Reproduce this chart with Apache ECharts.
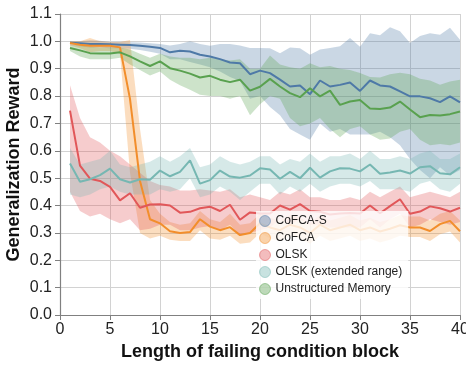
<!DOCTYPE html>
<html>
<head>
<meta charset="utf-8">
<script src="https://cdn.jsdelivr.net/npm/echarts@6/dist/echarts.min.js"></script>
<style>
  html, body { margin: 0; padding: 0; background: #fff; }
  #chart { width: 466px; height: 366px; }
</style>
</head>
<body>
<div id="chart"></div>
<script>
// length of failing condition block
const steps = [1, 2, 3, 4, 5, 6, 7, 8, 9, 10, 11, 12, 13, 14, 15, 16, 17, 18, 19, 20,
  21, 22, 23, 24, 25, 26, 27, 28, 29, 30, 31, 32, 33, 34, 35, 36, 37, 38, 39, 40];

// CoFCA-S
const cofcaSMean = [0.995, 0.993, 0.99, 0.99, 0.989, 0.988, 0.987, 0.984, 0.98, 0.976,
  0.96, 0.966, 0.963, 0.951, 0.945, 0.935, 0.923, 0.92, 0.88, 0.893,
  0.884, 0.86, 0.835, 0.839, 0.807, 0.857, 0.835, 0.841, 0.85, 0.819,
  0.857, 0.839, 0.835, 0.817, 0.799, 0.799, 0.792, 0.778, 0.799, 0.777];
const cofcaSHigh = [1.0, 1.0, 1.004, 1.002, 0.998, 0.998, 0.997, 0.996, 0.993, 0.99,
  0.985, 0.99, 1.0, 0.99, 0.984, 0.99, 0.99, 0.985, 0.976, 0.976,
  0.975, 0.957, 0.978, 0.975, 0.951, 0.97, 0.976, 0.982, 1.012, 0.98,
  1.03, 1.022, 1.052, 1.037, 0.994, 1.02, 1.03, 1.024, 1.05, 1.006];
const cofcaSLow = [0.985, 0.982, 0.978, 0.978, 0.975, 0.975, 0.973, 0.968, 0.962, 0.955,
  0.935, 0.935, 0.925, 0.915, 0.905, 0.89, 0.87, 0.855, 0.79, 0.8,
  0.76, 0.73, 0.68, 0.66, 0.64, 0.7, 0.67, 0.68, 0.66, 0.66,
  0.66, 0.67, 0.65, 0.62, 0.57, 0.53, 0.5, 0.54, 0.51, 0.53];

// CoFCA
const cofcaMean = [0.994, 0.988, 0.984, 0.984, 0.984, 0.978, 0.79, 0.49, 0.35, 0.335,
  0.306, 0.3, 0.303, 0.35, 0.323, 0.31, 0.321, 0.292, 0.3, 0.335,
  0.32, 0.31, 0.33, 0.32, 0.3, 0.33, 0.31, 0.32, 0.33, 0.31,
  0.32, 0.305, 0.315, 0.328, 0.32, 0.32, 0.307, 0.332, 0.344, 0.306];
const cofcaHigh = [1.0, 1.0, 1.012, 1.0, 0.998, 0.998, 1.005, 0.68, 0.42, 0.37,
  0.34, 0.33, 0.335, 0.38, 0.35, 0.34, 0.37, 0.33, 0.335, 0.37,
  0.355, 0.345, 0.365, 0.355, 0.335, 0.365, 0.345, 0.355, 0.365, 0.345,
  0.355, 0.34, 0.35, 0.365, 0.36, 0.36, 0.345, 0.37, 0.38, 0.345];
const cofcaLow = [0.985, 0.975, 0.96, 0.965, 0.965, 0.955, 0.52, 0.3, 0.28, 0.29,
  0.275, 0.27, 0.27, 0.31, 0.28, 0.275, 0.29, 0.26, 0.265, 0.3,
  0.28, 0.27, 0.29, 0.28, 0.26, 0.29, 0.27, 0.28, 0.29, 0.27,
  0.28, 0.265, 0.275, 0.29, 0.285, 0.285, 0.27, 0.295, 0.305, 0.265];

// OLSK
const olskMean = [0.747, 0.546, 0.498, 0.49, 0.468, 0.419, 0.445, 0.392, 0.404, 0.405,
  0.4, 0.374, 0.377, 0.39, 0.396, 0.38, 0.403, 0.348, 0.375, 0.371,
  0.371, 0.4, 0.385, 0.405, 0.38, 0.377, 0.367, 0.371, 0.373, 0.371,
  0.4, 0.372, 0.398, 0.423, 0.37, 0.378, 0.397, 0.39, 0.378, 0.392];
const olskHigh = [0.84, 0.72, 0.65, 0.63, 0.6, 0.58, 0.55, 0.52, 0.49, 0.475,
  0.47, 0.455, 0.455, 0.46, 0.455, 0.45, 0.46, 0.43, 0.44, 0.43,
  0.42, 0.45, 0.44, 0.46, 0.43, 0.43, 0.42, 0.42, 0.43, 0.42,
  0.45, 0.43, 0.45, 0.47, 0.43, 0.44, 0.45, 0.44, 0.43, 0.45];
const olskLow = [0.45, 0.38, 0.36, 0.37, 0.35, 0.335, 0.35, 0.31, 0.315, 0.33,
  0.33, 0.31, 0.31, 0.32, 0.325, 0.31, 0.33, 0.29, 0.3, 0.31,
  0.32, 0.35, 0.33, 0.35, 0.33, 0.33, 0.32, 0.32, 0.32, 0.32,
  0.35, 0.32, 0.35, 0.37, 0.32, 0.33, 0.35, 0.34, 0.33, 0.34];

// OLSK (extended range)
const olskExtMean = [0.554, 0.487, 0.496, 0.511, 0.535, 0.496, 0.484, 0.496, 0.494, 0.528,
  0.507, 0.523, 0.565, 0.48, 0.493, 0.528, 0.506, 0.502, 0.51, 0.536,
  0.532, 0.498, 0.523, 0.5, 0.538, 0.502, 0.525, 0.536, 0.535, 0.525,
  0.55, 0.516, 0.521, 0.528, 0.517, 0.54, 0.544, 0.518, 0.514, 0.54];
const olskExtHigh = [0.61, 0.55, 0.56, 0.57, 0.6, 0.55, 0.54, 0.55, 0.56, 0.58,
  0.56, 0.58, 0.61, 0.54, 0.55, 0.58, 0.56, 0.55, 0.56, 0.58,
  0.58, 0.55, 0.57, 0.56, 0.59, 0.56, 0.58, 0.58, 0.59, 0.57,
  0.6, 0.57, 0.57, 0.58, 0.57, 0.59, 0.6, 0.57, 0.57, 0.59];
const olskExtLow = [0.44, 0.43, 0.44, 0.46, 0.47, 0.45, 0.44, 0.44, 0.44, 0.46,
  0.45, 0.46, 0.5, 0.43, 0.44, 0.47, 0.45, 0.42, 0.45, 0.48,
  0.48, 0.44, 0.47, 0.45, 0.48, 0.45, 0.47, 0.48, 0.48, 0.47,
  0.49, 0.46, 0.46, 0.46, 0.45, 0.48, 0.49, 0.46, 0.45, 0.48];

// Unstructured Memory
const memoryMean = [0.976, 0.967, 0.957, 0.956, 0.956, 0.96, 0.945, 0.927, 0.91, 0.927,
  0.902, 0.893, 0.882, 0.868, 0.874, 0.86, 0.851, 0.86, 0.82, 0.834,
  0.863, 0.835, 0.811, 0.796, 0.829, 0.799, 0.82, 0.768, 0.78, 0.786,
  0.755, 0.753, 0.758, 0.78, 0.751, 0.723, 0.731, 0.729, 0.734, 0.744];
const memoryHigh = [0.985, 0.985, 0.98, 0.978, 0.978, 0.978, 0.97, 0.955, 0.94, 0.955,
  0.945, 0.94, 0.94, 0.935, 0.94, 0.935, 0.93, 0.935, 0.9, 0.9,
  0.948, 0.915, 0.905, 0.9, 0.92, 0.905, 0.91, 0.9, 0.895, 0.884,
  0.87, 0.868, 0.88, 0.885, 0.88, 0.863, 0.857, 0.841, 0.853, 0.86];
const memoryLow = [0.965, 0.945, 0.935, 0.935, 0.935, 0.94, 0.915, 0.895, 0.875, 0.89,
  0.86, 0.84, 0.823, 0.805, 0.8, 0.8, 0.79, 0.8, 0.73, 0.77,
  0.8, 0.79, 0.72, 0.69, 0.7, 0.72, 0.68, 0.65, 0.68, 0.69,
  0.66, 0.64, 0.645, 0.67, 0.68, 0.64, 0.62, 0.625, 0.62, 0.63];

const seriesNames = ['CoFCA-S', 'CoFCA', 'OLSK', 'OLSK (extended range)', 'Unstructured Memory'];
const colors = ['#4e79a7', '#f28e2b', '#e15759', '#76b7b2', '#59a14f'];
const bandColors = ['rgba(78,121,167,0.3)', 'rgba(242,142,43,0.3)', 'rgba(225,87,89,0.3)',
  'rgba(118,183,178,0.3)', 'rgba(89,161,79,0.3)'];

const groups = [
  [cofcaSMean, cofcaSLow, cofcaSHigh],
  [cofcaMean, cofcaLow, cofcaHigh],
  [olskMean, olskLow, olskHigh],
  [olskExtMean, olskExtLow, olskExtHigh],
  [memoryMean, memoryLow, memoryHigh]
];

const font = 'Liberation Sans, Arial, Helvetica, sans-serif';

let series = [];
// shaded bands, one polygon per method (upper edge then lower edge back)
groups.forEach((g, k) => {
  let low = g[1], high = g[2];
  series.push({
    name: seriesNames[k] + ' band',
    type: 'custom',
    data: steps.map((x, i) => [x, low[i], high[i]]),
    encode: {x: 0, y: [1, 2]},
    renderItem: (params, api) => {
      if (params.dataIndex !== 0) return;
      let top = steps.map((x, i) => api.coord([x, high[i]]));
      let bottom = steps.map((x, i) => api.coord([x, low[i]])).reverse();
      return {
        type: 'polygon',
        shape: {points: top.concat(bottom)},
        style: {fill: bandColors[k]}
      };
    },
    clip: true,
    silent: true,
    z: 1
  });
});
groups.forEach((g, k) => {
  series.push({
    name: seriesNames[k],
    type: 'line',
    data: steps.map((x, i) => [x, g[0][i]]),
    symbol: 'none',
    color: colors[k],
    lineStyle: {color: colors[k], width: 2},
    z: 3
  });
});

let option = {
  animation: false,
  backgroundColor: '#fff',
  grid: {left: 60, right: 6, top: 14, bottom: 51, outerBoundsMode: 'none'},
  xAxis: {
    type: 'value',
    min: 0,
    max: 40,
    interval: 5,
    name: 'Length of failing condition block',
    nameLocation: 'middle',
    nameGap: 24,
    nameTextStyle: {fontFamily: font, fontSize: 18, fontWeight: 'bold', color: '#111'},
    axisLine: {lineStyle: {color: '#808080', width: 1.2}},
    axisTick: {show: true, length: 5, lineStyle: {color: '#808080'}},
    axisLabel: {fontFamily: font, fontSize: 16, color: '#222', margin: 7},
    splitLine: {show: true, lineStyle: {color: '#d2d2d2', width: 1}}
  },
  yAxis: {
    type: 'value',
    min: 0,
    max: 1.1,
    interval: 0.1,
    name: 'Generalization Reward',
    nameLocation: 'middle',
    nameGap: 37,
    nameMoveOverlap: false,
    nameTextStyle: {fontFamily: font, fontSize: 18, fontWeight: 'bold', color: '#111'},
    axisLine: {show: true, lineStyle: {color: '#808080', width: 1.2}},
    axisTick: {show: true, length: 5, lineStyle: {color: '#808080'}},
    axisLabel: {fontFamily: font, fontSize: 16, color: '#222', margin: 8,
      formatter: v => v.toFixed(1)},
    splitLine: {show: true, lineStyle: {color: '#d2d2d2', width: 1}}
  },
  legend: {
    orient: 'vertical',
    left: 256,
    top: 211,
    padding: [4, 6, 4, 3],
    itemWidth: 11,
    itemHeight: 11,
    itemGap: 5,
    icon: 'circle',
    backgroundColor: 'rgba(255,255,255,0.8)',
    textStyle: {fontFamily: font, fontSize: 12, color: '#222'},
    data: seriesNames.map((n, k) => ({
      name: n,
      itemStyle: {color: bandColors[k].replace('0.3)', '0.4)'), borderColor: bandColors[k].replace('0.3)', '0.5)'), borderWidth: 1}
    })),
    z: 10
  },
  series: series
};

let chart = echarts.init(document.getElementById('chart'));
chart.setOption(option);
</script>
</body>
</html>
